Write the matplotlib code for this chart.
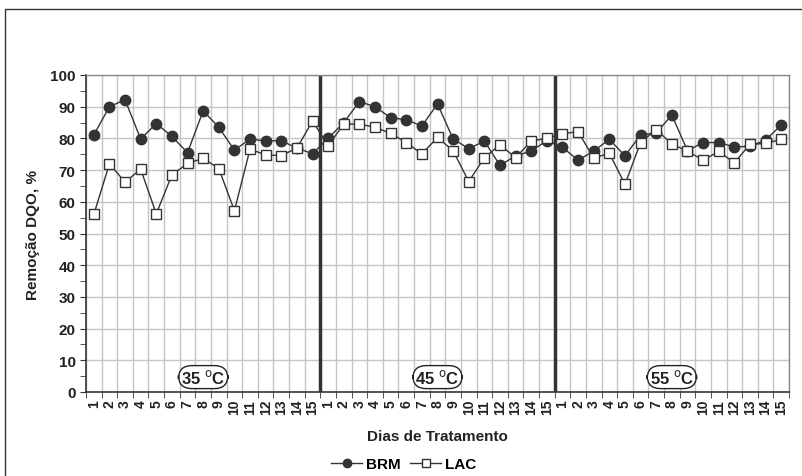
import matplotlib
matplotlib.use("Agg")
import matplotlib.pyplot as plt
from matplotlib.patches import Rectangle
import numpy as np

plt.rcParams['font.family'] = ['Liberation Sans', 'DejaVu Sans']

days = [str(d) for d in range(1, 16)] * 3
brm = [81.1, 90.0, 92.2, 79.8, 84.7, 80.6, 75.5, 88.7, 83.5, 76.3, 79.8, 79.2, 79.3, 76.9, 75.2,
       80.0, 85.0, 91.6, 90.0, 86.5, 85.9, 83.9, 90.9, 79.8, 76.8, 79.1, 71.5, 74.5, 76.0, 79.3,
       77.2, 73.1, 76.0, 79.7, 74.5, 81.1, 81.7, 87.4, 76.1, 78.7, 78.7, 77.3, 77.5, 79.5, 84.2]
lac = [56.0, 72.0, 66.2, 70.3, 56.2, 68.5, 72.1, 73.7, 70.5, 57.2, 76.6, 74.8, 74.6, 76.9, 85.5,
       77.7, 84.5, 84.5, 83.5, 81.6, 78.7, 75.1, 80.3, 76.1, 66.4, 73.9, 78.0, 73.9, 79.2, 80.0,
       81.5, 82.1, 73.8, 75.3, 65.5, 78.7, 82.8, 78.2, 76.0, 73.1, 75.9, 72.3, 78.1, 78.4, 79.7]
temps = ['35', '45', '55']

fig = plt.figure(figsize=(8.03, 4.77), dpi=100)
# outer frame
fig.patches.append(Rectangle((5/803, -0.1), 1.2, 1 - 10/477 + 0.1, transform=fig.transFigure,
                             fill=False, edgecolor='#333333', lw=1.0))

ax = fig.add_axes([86/803, 1 - 393/477, (789-86)/803, (393-76)/477])
x = np.arange(len(brm))
ax.set_xlim(-0.5, len(brm) - 0.5)
ax.set_ylim(0, 100)

# grid
for k in range(len(brm) + 1):
    ax.axvline(k - 0.5, color='#cbc3c3', lw=1.0, zorder=0)
for yv in range(10, 101, 10):
    ax.axhline(yv, color='#cbc3c3', lw=1.0, zorder=0)
# phase separators
for k in (15, 30):
    ax.axvline(k - 0.5, color='#333333', lw=2.5, zorder=1)

ax.plot(x, brm, color='#333333', lw=1.0, marker='o', ms=7.5, mfc='#333333', mec='#333333', label='BRM', zorder=3)
ax.plot(x, lac, color='#333333', lw=1.0, marker='s', ms=7, mfc='white', mec='#333333', mew=1.0, label='LAC', zorder=3)

ax.set_xticks(x)
ax.set_xticklabels(days, rotation=90, fontsize=10, fontweight='bold', color='#222222')
ax.set_xticks(np.arange(-0.5, len(brm), 1), minor=True)
ax.tick_params(axis='x', which='major', length=0, pad=5)
ax.tick_params(axis='x', which='minor', length=4, direction='out', color='#333333')
ax.set_yticks(range(0, 101, 10))
ax.set_yticks(range(0, 101, 5), minor=True)
ax.set_yticklabels([str(v) for v in range(0, 101, 10)], fontsize=11, fontweight='bold', color='#222222')
ax.tick_params(axis='y', which='both', length=4, direction='out', color='#333333')

for s in ['top', 'right']:
    ax.spines[s].set_color('#888888')
    ax.spines[s].set_linewidth(1.0)
for s in ['left', 'bottom']:
    ax.spines[s].set_color('#333333')
    ax.spines[s].set_linewidth(1.2)

ax.set_ylabel('Remoção DQO, %', fontsize=11, fontweight='bold', color='#222222')
ax.yaxis.set_label_coords((40 - 86) / 703, 0.5)
ax.set_xlabel('Dias de Tratamento', fontsize=11, fontweight='bold', color='#222222')
ax.xaxis.set_label_coords(0.5, (393 - 430) / 317)

for i, t in enumerate(temps):
    ax.text(7 + 15*i, 4.7, t + r' $^{\mathrm{o}}$C', fontsize=12, fontweight='bold', color='#222222',
            ha='center', va='center',
            bbox=dict(boxstyle='round,pad=0.15,rounding_size=0.8', fc='white', ec='#222222', lw=1.0), zorder=4)

fig.legend(handles=ax.get_lines()[-2:], labels=['BRM', 'LAC'], loc='center', bbox_to_anchor=(404/803, 1 - 465/477),
           ncol=2, frameon=False, prop={'weight': 'bold', 'size': 11}, handlelength=2.0, handletextpad=0.3,
           columnspacing=0.6, markerscale=0.8)

fig.savefig('out.png', dpi=100)
